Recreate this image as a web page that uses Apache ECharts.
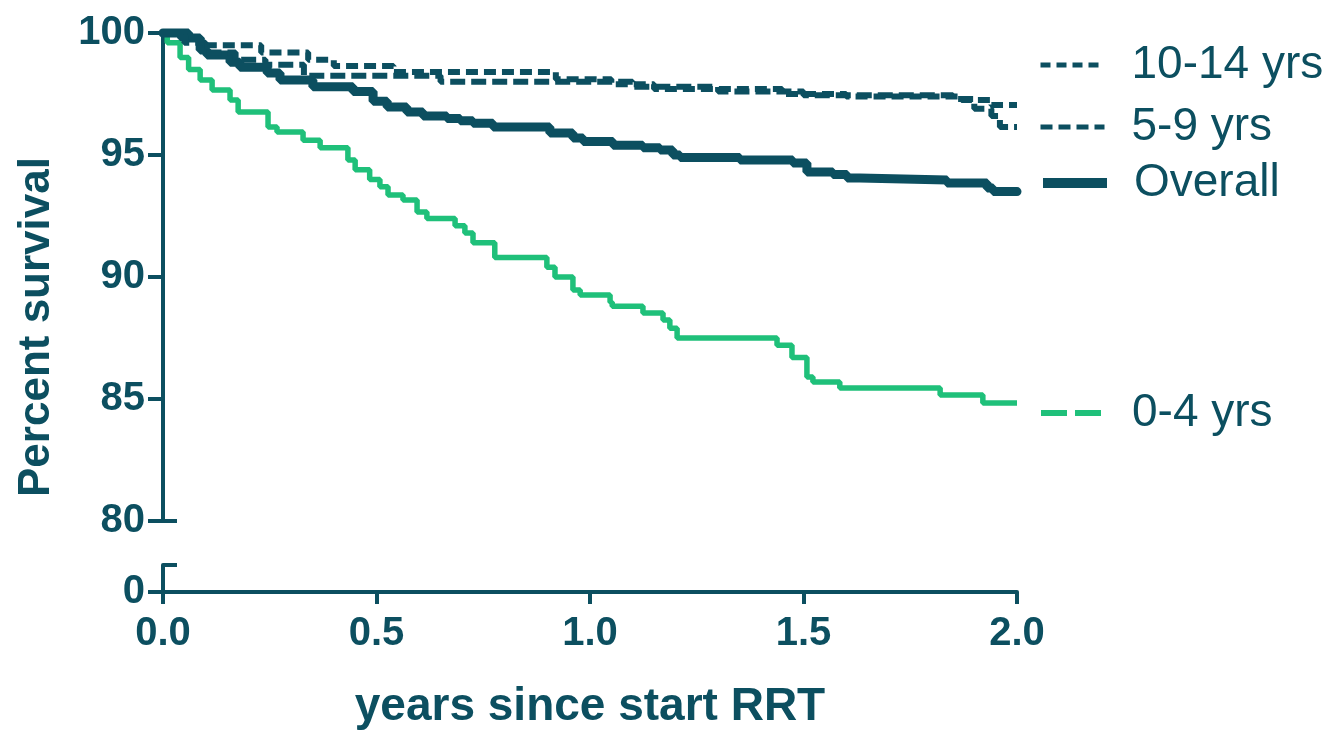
<!DOCTYPE html>
<html>
<head>
<meta charset="utf-8">
<script src="https://cdn.jsdelivr.net/npm/echarts@6/dist/echarts.min.js"></script>
<style>
  html, body { margin: 0; padding: 0; background: #fff; }
  #chart { width: 1331px; height: 731px; }
</style>
</head>
<body>
<div id="chart"></div>
<script>
// Kaplan-Meier survival by age group, [years, percent survival]
var seriesNames = ['0-4 yrs', 'Overall', '5-9 yrs', '10-14 yrs'];

var age0to4 = [
  [0, 100], [0.01, 99.6], [0.04, 99.0], [0.06, 98.5], [0.087, 98.07], [0.115, 97.66],
  [0.157, 97.25], [0.176, 96.76], [0.246, 96.15], [0.267, 95.94], [0.328, 95.6],
  [0.368, 95.3], [0.433, 94.8], [0.45, 94.4], [0.484, 94.0], [0.508, 93.7],
  [0.527, 93.36], [0.562, 93.16], [0.595, 92.66], [0.618, 92.4], [0.684, 92.1],
  [0.707, 91.8], [0.726, 91.4], [0.777, 90.8], [0.899, 90.4], [0.918, 90.0],
  [0.96, 89.47], [0.977, 89.26], [1.047, 88.97], [1.052, 88.8], [1.124, 88.52],
  [1.171, 88.24], [1.187, 87.9], [1.204, 87.5], [1.438, 87.2], [1.473, 86.7],
  [1.508, 85.9], [1.522, 85.7], [1.585, 85.45], [1.82, 85.16], [1.92, 84.84], [2.0, 84.84]
];

var overall = [
  [0, 100], [0.06, 99.8], [0.087, 99.3], [0.103, 99.1], [0.157, 98.8], [0.18, 98.6],
  [0.244, 98.36], [0.274, 98.07], [0.351, 97.8], [0.445, 97.6], [0.492, 97.2],
  [0.525, 96.97], [0.571, 96.76], [0.609, 96.6], [0.665, 96.5], [0.696, 96.4],
  [0.726, 96.3], [0.773, 96.15], [0.906, 95.9], [0.96, 95.7], [0.984, 95.55],
  [1.054, 95.4], [1.124, 95.3], [1.164, 95.2], [1.194, 95.0], [1.211, 94.9],
  [1.351, 94.8], [1.475, 94.67], [1.508, 94.3], [1.569, 94.2], [1.602, 94.06],
  [1.632, 93.98], [1.836, 93.85], [1.93, 93.65], [1.944, 93.5], [2.0, 93.5]
];

var age5to9 = [
  [0, 100], [0.05, 99.6], [0.1, 99.2], [0.17, 98.9], [0.24, 98.7], [0.33, 98.25],
  [0.65, 98.0], [1.1, 97.8], [1.3, 97.6], [1.5, 97.45], [1.85, 97.3], [1.9, 96.9],
  [1.94, 96.6], [1.96, 96.15], [2.0, 96.15]
];

var age10to14 = [
  [0, 100], [0.04, 99.8], [0.09, 99.5], [0.23, 99.2], [0.34, 98.9], [0.40, 98.65],
  [0.54, 98.4], [0.92, 98.1], [1.05, 97.9], [1.15, 97.7], [1.45, 97.5], [1.6, 97.4],
  [1.87, 97.25], [1.94, 97.05], [2.0, 97.05]
];

var xTicks = [0, 0.5, 1.0, 1.5, 2.0];

var dark = '#0c4f60';
var green = '#1fc07a';
var font = '"Liberation Sans", Arial, sans-serif';

var chart = echarts.init(document.getElementById('chart'));

function legendAt(name, top, lineStyle) {
  return {
    data: [{ name: name, lineStyle: lineStyle }],
    left: 1033,
    top: top,
    orient: 'vertical',
    itemWidth: 64,
    itemHeight: 14,
    selectedMode: false,
    itemStyle: { opacity: 0 },
    textStyle: { color: dark, fontSize: 46, fontFamily: font, lineHeight: 46, padding: [0, 0, 0, 22] }
  };
}

chart.setOption({
  animation: false,
  backgroundColor: '#fff',
  grid: [
    { left: 163, right: 314, top: 33, height: 488 },
    { left: 163, right: 314, top: 565, height: 35 }
  ],
  legend: [
    legendAt('10-14 yrs', 37, { width: 5, type: [10, 6], cap: 'butt' }),
    legendAt('5-9 yrs', 99, { width: 5, type: [12, 6], cap: 'butt' }),
    legendAt('Overall', 155, { width: 10, type: 'solid', cap: 'butt' }),
    legendAt('0-4 yrs', 385, { width: 6, type: [26, 8], cap: 'butt' })
  ],
  xAxis: [
    { type: 'value', gridIndex: 0, min: 0, max: 2, show: false },
    {
      type: 'value', gridIndex: 1, min: 0, max: 2, interval: 0.5,
      axisLine: { show: true, lineStyle: { color: dark, width: 4 } },
      axisTick: { show: true, length: 12, lineStyle: { color: dark, width: 4 } },
      splitLine: { show: false },
      axisLabel: {
        color: dark, fontSize: 40, fontWeight: 'bold', fontFamily: font, margin: 22,
        formatter: function (v) { return xTicks.indexOf(v) >= 0 ? v.toFixed(1) : ''; }
      },
      name: 'years since start RRT',
      nameLocation: 'middle',
      nameGap: 92,
      nameTextStyle: { color: dark, fontSize: 46, fontWeight: 'bold', fontFamily: font }
    }
  ],
  yAxis: [
    {
      type: 'value', gridIndex: 0, min: 80, max: 100, interval: 5,
      axisLine: { show: true, lineStyle: { color: dark, width: 4 } },
      axisTick: { show: true, length: 15, lineStyle: { color: dark, width: 4 } },
      splitLine: { show: false },
      axisLabel: { color: dark, fontSize: 40, fontWeight: 'bold', fontFamily: font, margin: 18 },
      name: 'Percent survival',
      nameLocation: 'middle',
      nameGap: 104,
      nameRotate: 90,
      nameTextStyle: { color: dark, fontSize: 44, fontWeight: 'bold', fontFamily: font, padding: [0, 100, 0, 0] }
    },
    {
      // break cap at the bottom of the upper segment
      type: 'value', gridIndex: 0, min: 80, max: 100, position: 'left',
      axisLine: { show: false },
      axisTick: { show: true, inside: true, length: 14, customValues: [80], lineStyle: { color: dark, width: 4 } },
      axisLabel: { show: false },
      splitLine: { show: false }
    },
    {
      type: 'value', gridIndex: 1, min: 0, max: 10,
      axisLine: { show: true, lineStyle: { color: dark, width: 4 } },
      axisTick: { show: true, length: 15, customValues: [0], lineStyle: { color: dark, width: 4 } },
      axisLabel: {
        color: dark, fontSize: 40, fontWeight: 'bold', fontFamily: font, margin: 18,
        customValues: [0], verticalAlign: 'middle'
      },
      splitLine: { show: false }
    },
    {
      // break cap at the top of the lower segment
      type: 'value', gridIndex: 1, min: 0, max: 10, position: 'left',
      axisLine: { show: false },
      axisTick: { show: true, inside: true, length: 14, customValues: [10], lineStyle: { color: dark, width: 4 } },
      axisLabel: { show: false },
      splitLine: { show: false }
    }
  ],
  series: [
    {
      name: '0-4 yrs', type: 'line', step: 'end', data: age0to4, symbol: 'none', clip: false,
      xAxisIndex: 0, yAxisIndex: 0, color: green,
      lineStyle: { color: green, width: 5.5 }
    },
    {
      name: 'Overall', type: 'line', step: 'end', data: overall, symbol: 'none', clip: false,
      xAxisIndex: 0, yAxisIndex: 0, color: dark,
      lineStyle: { color: dark, width: 9, cap: 'round' }
    },
    {
      name: '5-9 yrs', type: 'line', step: 'end', data: age5to9, symbol: 'none', clip: false,
      xAxisIndex: 0, yAxisIndex: 0, color: dark,
      lineStyle: { color: dark, width: 6, type: [15, 6] }
    },
    {
      name: '10-14 yrs', type: 'line', step: 'end', data: age10to14, symbol: 'none', clip: false,
      xAxisIndex: 0, yAxisIndex: 0, color: dark,
      lineStyle: { color: dark, width: 6, type: [12, 6] }
    }
  ]
});
</script>
</body>
</html>
